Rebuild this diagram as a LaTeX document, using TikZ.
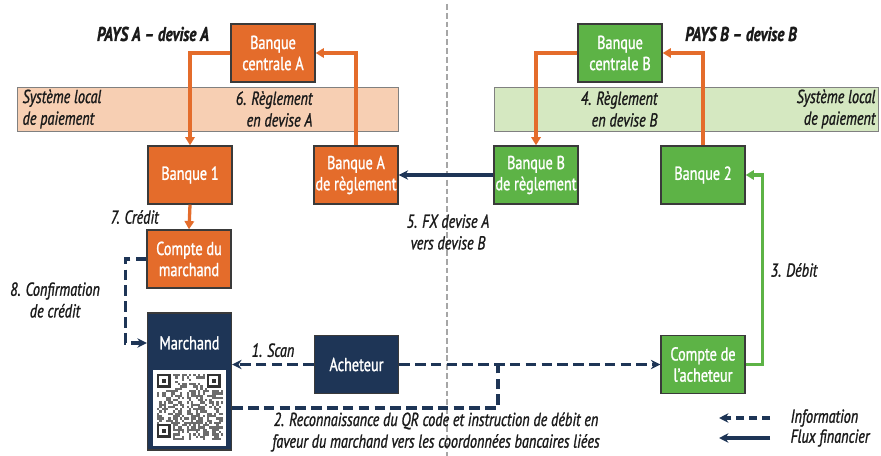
\documentclass[tikz,border=0pt]{standalone}
\usepackage{fontspec}
\setmainfont[FakeStretch=0.76,FakeBold=1.2]{PT Sans}
\usetikzlibrary{arrows.meta}

\definecolor{orangebox}{HTML}{E46C2B}
\definecolor{greenbox}{HTML}{5DB346}
\definecolor{navy}{HTML}{1E3556}
\definecolor{bandA}{HTML}{F7CFB3}
\definecolor{bandB}{HTML}{D5E8C1}
\definecolor{edge}{HTML}{3A3A3A}
\definecolor{ink}{HTML}{1A1A1A}

\tikzset{every picture/.style={line width=0.75pt}}
\tikzset{
  bank/.style={draw=edge,line width=1.2pt,text=white,align=center,
    minimum width=2.52cm,minimum height=1.74cm,inner sep=1pt,
    font=\fontsize{16}{18}\selectfont},
  bankA/.style={bank,fill=orangebox},
  bankB/.style={bank,fill=greenbox},
  band/.style={draw=gray,line width=0.8pt,minimum height=1.32cm,inner sep=0pt},
  lbl/.style={text=ink,font=\fontsize{16}{18.5}\selectfont\itshape,inner sep=1pt},
  title/.style={text=ink,font=\fontsize{17}{19}\selectfont\bfseries\itshape},
  settle/.style={orangebox,line width=2.8pt,-{Triangle[length=7pt,width=8pt]}},
  debit/.style={greenbox,line width=2.6pt,-{Triangle[length=7pt,width=8pt]}},
  info/.style={navy,line width=2.8pt,dash pattern=on 9pt off 4.5pt,-{Stealth[length=8pt,width=8pt]}},
  fin/.style={navy,line width=2.8pt,-{Stealth[length=8pt,width=8pt]}}
}

\begin{document}
\begin{tikzpicture}[x=0.03cm,y=-0.03cm]
\useasboundingbox[fill=white] (0,0) rectangle (881,456);

% separation des deux pays
\draw[gray!70,line width=1.2pt,dash pattern=on 5pt off 2.5pt] (447,4) -- (447,456);

% systemes locaux de paiement
\node [band,fill=bandA,minimum width=11.43cm](sysA) at (207.5,109) {};
\node [band,fill=bandB,minimum width=11.52cm](sysB) at (686,109) {};
\node [lbl,align=left,anchor=west](sysAt) at (21,109) {Système local\\de paiement};
\node [lbl,align=right,anchor=east](sysBt) at (877,109) {Système local\\de paiement};
\node [lbl,align=right,anchor=east](regA) at (314,109) {6. Règlement\\en devise A};
\node [lbl,align=right,anchor=east](regB) at (659,109) {4. Règlement\\en devise B};

% pays A
\node [title](paysA) at (153,34) {PAYS A – devise A};
\node [bankA](cbA) at (273,53) {Banque\\centrale A};
\node [bankA](b1) at (190,175) {Banque 1};
\node [bankA](brA) at (356,175) {Banque A\\de règlement};
\node [bankA](cmA) at (189,259) {Compte du\\marchand};

% pays B
\node [title](paysB) at (741,34) {PAYS B – devise B};
\node [bankB](cbB) at (620,53) {Banque\\centrale B};
\node [bankB](brB) at (536,175) {Banque B\\de règlement};
\node [bankB](b2) at (703,175) {Banque 2};
\node [bankB](caB) at (703,364.5) {Compte de\\l'acheteur};

% marchand et acheteur
\node [bank,fill=navy,minimum height=4.11cm](mar) at (189.5,381.5) {};
\node [text=white,font=\fontsize{16}{18}\selectfont](marT) at (189.5,343) {Marchand};
\node [bank,fill=navy](ach) at (356.5,364.5) {Acheteur};

% QR code
\fill[white] (153,370) rectangle (226,446);
\pgfmathsetseed{42}
\foreach \i in {0,...,28}
  \foreach \j in {0,...,28}{
    \pgfmathrandominteger{\r}{0}{1}
    \ifnum\r=1
      \fill[gray!85!black] ({157+2.28*\i},{374+2.28*\j}) rectangle ++(2.28,2.28);
    \fi
  }
\foreach \fx/\fy in {157/374,207.1/374,157/424.1}{
  \fill[white] (\fx,\fy) rectangle ++(15.96,15.96);
  \fill[gray!40!black] (\fx,\fy) rectangle ++(13.7,13.7);
  \fill[white] ({\fx+2.28},{\fy+2.28}) rectangle ++(9.1,9.1);
  \fill[gray!40!black] ({\fx+4.56},{\fy+4.56}) rectangle ++(4.6,4.6);
}

% flux de reglement
\draw[settle] (cbA.west) -| (b1.north);
\draw[settle] (brA.north) |- (cbA.east);
\draw[settle] (cbB.west) -| (brB.north);
\draw[settle] (b2.north) |- (cbB.east);
\draw[settle] (b1.south) -- (cmA.north) node [midway,lbl,left=24pt] {7. Crédit};
\draw[fin] (brB.west) -- (brA.east);
\node [lbl,align=center](fx) at (448,232) {5. FX devise A\\vers devise B};
\draw[debit] (caB.east) -- ++(17,0) |- (b2.east);
\node [lbl](deb) at (794,270) {3. Débit};

% flux d'information
\draw[info] (ach.west) -- (mar.east |- ach) node [midway,lbl,above=4pt] {1. Scan};
\draw[info] (ach.east) -- (caB.west);
\draw[navy,line width=2.8pt,dash pattern=on 9pt off 4.5pt] (mar.east |- 0,408) -| (498,364.5);
\node [lbl,align=center](qr) at (436,432) {2. Reconnaissance du QR code et instruction de débit en\\faveur du marchand vers les coordonnées bancaires liées};
\draw[info] (cmA.west) -- ++(-21,0) |- (mar.west |- marT);
\node [lbl,align=center](conf) at (55,300) {8. Confirmation\\de crédit};

% legende
\node [lbl,anchor=west](linfo) at (789,418) {Information};
\node [lbl,anchor=west](lfin) at (789,438) {Flux financier};
\coordinate (i1) at (770,418);
\coordinate (i2) at (719,418);
\coordinate (f1) at (770,438);
\coordinate (f2) at (719,438);
\draw[info,dash pattern=on 7pt off 4pt] (i1) -- (i2);
\draw[fin] (f1) -- (f2);
\end{tikzpicture}
\end{document}
